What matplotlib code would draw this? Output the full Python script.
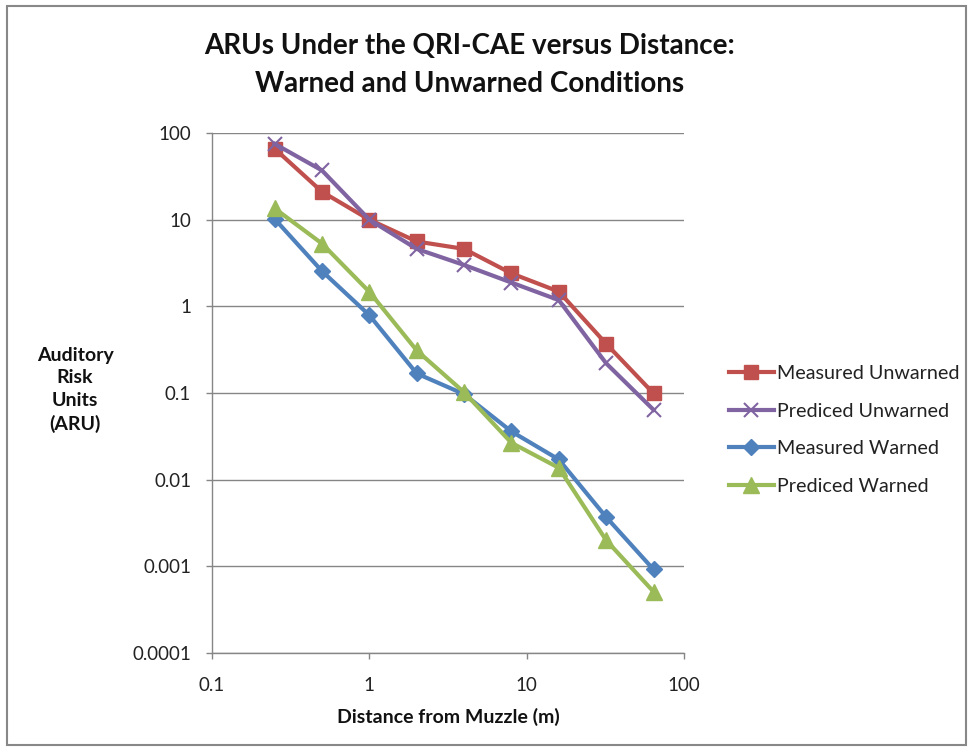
import matplotlib
matplotlib.use("Agg")
import matplotlib.pyplot as plt
from matplotlib.patches import Rectangle

plt.rcParams["font.family"] = ["Lato", "DejaVu Sans"]

distance = [0.25, 0.5, 1, 2, 4, 8, 16, 32, 64]
measured_unwarned = [66, 21, 10, 5.6, 4.6, 2.4, 1.48, 0.37, 0.099]
prediced_unwarned = [75, 37, 10, 4.6, 3.0, 1.88, 1.18, 0.22, 0.064]
measured_warned = [10.2, 2.55, 0.79, 0.168, 0.097, 0.036, 0.0171, 0.0037, 0.00092]
prediced_warned = [13.5, 5.3, 1.47, 0.31, 0.102, 0.0266, 0.0137, 0.0020, 0.00051]

y_ticks = [0.0001, 0.001, 0.01, 0.1, 1, 10, 100]
y_tick_labels = ["0.0001", "0.001", "0.01", "0.1", "1", "10", "100"]
x_ticks = [0.1, 1, 10, 100]
x_tick_labels = ["0.1", "1", "10", "100"]

fig = plt.figure(figsize=(9.7, 7.49), dpi=100)
ax = fig.add_axes([212 / 970, 1 - 653 / 749, 472 / 970, 520 / 749])

grey = "#868686"
lw = 3.0
ax.plot(distance, measured_unwarned, color="#C0504D", lw=lw, marker="s",
        markersize=10, label="Measured Unwarned", zorder=3)
ax.plot(distance, prediced_unwarned, color="#8064A2", lw=lw, marker="x",
        markersize=10, markeredgewidth=1.5, label="Prediced Unwarned", zorder=3)
ax.plot(distance, measured_warned, color="#4F81BD", lw=lw, marker="D",
        markersize=8, label="Measured Warned", zorder=3)
ax.plot(distance, prediced_warned, color="#9BBB59", lw=lw, marker="^",
        markersize=11, label="Prediced Warned", zorder=3)

ax.set_xscale("log")
ax.set_yscale("log")
ax.set_xlim(0.1, 100)
ax.set_ylim(0.0001, 100)
ax.set_xticks(x_ticks)
ax.set_xticklabels(x_tick_labels)
ax.set_yticks(y_ticks)
ax.set_yticklabels(y_tick_labels)
ax.minorticks_off()
ax.tick_params(axis="both", direction="out", length=4.5, width=1, color=grey,
               labelsize=13.5, labelcolor="#222222")
ax.tick_params(axis="x", pad=12.5)
ax.tick_params(axis="y", pad=10.5)
ax.grid(axis="y", color=grey, lw=1)
ax.set_axisbelow(True)
for side in ["top", "right"]:
    ax.spines[side].set_visible(False)
for side in ["left", "bottom"]:
    ax.spines[side].set_color(grey)
    ax.spines[side].set_linewidth(1)

fig.text(470 / 970, 1 - 65 / 749,
         "ARUs Under the QRI-CAE versus Distance:\nWarned and Unwarned Conditions",
         ha="center", va="center", fontsize=20, fontweight="bold",
         linespacing=1.6, color="#111111")
fig.text(448 / 970, 1 - 717 / 749, "Distance from Muzzle (m)", ha="center",
         va="center", fontsize=14, fontweight="bold", color="#111111")
fig.text(75 / 970, 1 - 390 / 749, "Auditory\nRisk\nUnits\n(ARU)", ha="center",
         va="center", fontsize=14, fontweight="bold", linespacing=1.4,
         color="#111111")

fig.legend(loc="center left", bbox_to_anchor=(711 / 970, 1 - 430 / 749),
           frameon=False, fontsize=14.2, handlelength=2.3, handletextpad=0.15,
           labelspacing=1.05, labelcolor="#222222")

fig.patches.append(Rectangle((7 / 970, 4 / 749), 959 / 970, 739 / 749,
                             transform=fig.transFigure, fill=False,
                             edgecolor="#888888", lw=1.5))

fig.savefig("out.png", dpi=100)
